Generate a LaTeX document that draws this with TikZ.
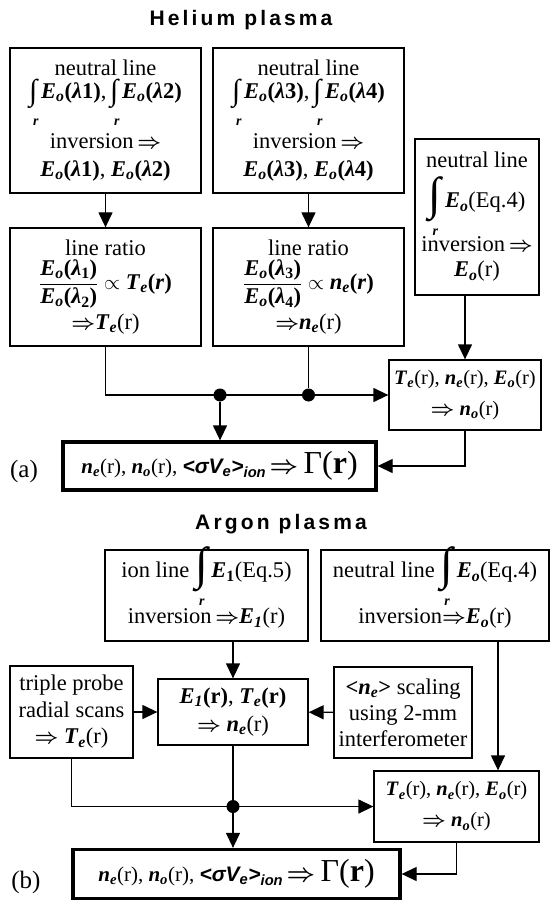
\documentclass[tikz,border=0pt]{standalone}
\usepackage{amsmath}
\usepackage{fontspec}
\setmainfont{Liberation Serif}
\newfontfamily\titlefont[LetterSpace=15]{Liberation Sans}
\newfontfamily\sansbi{Liberation Sans}
\usetikzlibrary{arrows.meta}
\newcommand{\bE}{\textbf{\textit{E}}}
\newcommand{\bT}{\textbf{\textit{T}}}
\newcommand{\bn}{\textbf{\textit{n}}}
\newcommand{\sbi}[1]{\textsubscript{\textbf{\textit{#1}}}}
% integral: #1 glyph size, #2 raise of glyph, #3 raise of r
\newcommand{\intg}[3]{\smash{\rlap{\hspace{4pt}\raisebox{#3}{\fontsize{14}{14}\selectfont\bfseries\itshape r}}\raisebox{#2}{\fontsize{#1}{#1}\selectfont\bfseries ∫}}\,}
\newcommand{\intr}{\intg{30}{-2pt}{-27pt}}
\newcommand{\intR}{\intg{46}{-2pt}{-28pt}}
\newcommand{\RA}{$\boldsymbol{\Rightarrow}$}
\newcommand{\flux}{\bn\sbi{e}(r), \bn\sbi{o}(r), {\sansbi\bfseries\itshape <σV\textsubscript{e}>\textsubscript{ion}}\,{\fontsize{32}{32}\selectfont$\boldsymbol{\Rightarrow}$\,Γ(\textbf{r})}}
\begin{document}
\begin{tikzpicture}[x=1pt,y=-1pt,
  box/.style={draw, line width=1.3pt, inner sep=0pt, align=center, font=\fontsize{22.5}{22}\selectfont},
  finalbox/.style={draw, line width=3.3pt, inner sep=0pt, align=center, font=\fontsize{21}{24}\selectfont},
  arr/.style={-{Triangle[length=15pt,width=14pt]}, line width=1.3pt},
  conn/.style={line width=1.3pt},
  dot/.style={circle, fill, inner sep=0pt, minimum size=13pt},
  ttl/.style={font=\titlefont\bfseries\fontsize{21}{24}\selectfont},
  lbl/.style={font=\fontsize{25}{28}\selectfont}]
\useasboundingbox (0,0) rectangle (551,901);
% ---------- Helium ----------
\node[ttl] (t1) at (241,20) {Helium plasma};
\node[box, minimum width=191pt, minimum height=145pt] (A1) at (105.5,120.5)
 {neutral line\\[1pt]
  \intr\bE\sbi{o}\textbf{(\textit{λ}1)},\,\intr\bE\sbi{o}\textbf{(\textit{λ}2)}\\[28pt]
  inversion\,\RA\\[6pt]
  \bE\sbi{o}\textbf{(\textit{λ}1)}, \bE\sbi{o}\textbf{(\textit{λ}2)}};
\node[box, minimum width=191pt, minimum height=145pt] (A2) at (308.5,120.5)
 {neutral line\\[1pt]
  \intr\bE\sbi{o}\textbf{(\textit{λ}3)},\,\intr\bE\sbi{o}\textbf{(\textit{λ}4)}\\[28pt]
  inversion\,\RA\\[6pt]
  \bE\sbi{o}\textbf{(\textit{λ}3)}, \bE\sbi{o}\textbf{(\textit{λ}4)}};
\node[box, minimum width=124pt, minimum height=156pt] (A3) at (477,217)
 {neutral line\\[18pt]
  \intR\bE\sbi{o}(Eq.4)\\[22pt]
  inversion\,\RA\\[3pt]
  \bE\sbi{o}(r)};
\node[box, minimum width=191pt, minimum height=118pt, font=\fontsize{22.5}{26}\selectfont] (B1) at (105.5,287)
 {line ratio\\[3pt]
  $\displaystyle\frac{\hbox{\bE\sbi{o}\textbf{(\textit{λ}\textsubscript{1})}}}{\hbox{\bE\sbi{o}\textbf{(\textit{λ}\textsubscript{2})}}}\propto$ \bT\sbi{e}\textbf{(\textit{r})}\\[4pt]
  \RA\bT\sbi{e}(r)};
\node[box, minimum width=191pt, minimum height=118pt, font=\fontsize{22.5}{26}\selectfont] (B2) at (308.5,287)
 {line ratio\\[3pt]
  $\displaystyle\frac{\hbox{\bE\sbi{o}\textbf{(\textit{λ}\textsubscript{3})}}}{\hbox{\bE\sbi{o}\textbf{(\textit{λ}\textsubscript{4})}}}\propto$ \bn\sbi{e}\textbf{(\textit{r})}\\[4pt]
  \RA\bn\sbi{e}(r)};
\node[box, minimum width=152pt, minimum height=70pt, font=\fontsize{20.5}{31}\selectfont] (C) at (465,395)
 {\bT\sbi{e}(r), \bn\sbi{e}(r), \bE\sbi{o}(r)\\
  \RA\ \bn\sbi{o}(r)};
\node[finalbox, minimum width=313pt, minimum height=48pt] (G1) at (219.5,466) {\flux};
\node[lbl] (la) at (24,471) {(a)};
\node[dot] (d1) at (220,395) {};
\node[dot] (d2) at (B2.south |- d1) {};
\draw[arr] (A1) -- (B1);
\draw[arr] (A2) -- (B2);
\draw[arr] (A3.south -| C.north) -- (C.north);
\draw[arr] (B1.south) |- (C.west);
\draw[conn] (B2.south) -- (d2);
\draw[arr] (d1) -- (d1 |- G1.north);
\draw[arr] (C.south) |- (G1.east);
% ---------- Argon ----------
\node[ttl] (t2) at (281,524) {Argon plasma};
\node[box, minimum width=203pt, minimum height=91pt] (D1) at (206.5,595.5)
 {ion line \intR\bE\textsubscript{\textbf{1}}(Eq.5)\\[24pt]
  inversion\,\RA\bE\sbi{1}(r)};
\node[box, minimum width=228pt, minimum height=91pt] (D2) at (435,595.5)
 {neutral line \intR\bE\sbi{o}(Eq.4)\\[24pt]
  inversion\RA\bE\sbi{o}(r)};
\node[box, minimum width=150pt, minimum height=66pt, font=\fontsize{22.5}{28}\selectfont] (E) at (233,712)
 {\bE\sbi{1}\textbf{(r)}, \bT\sbi{e}\textbf{(r)}\\
  \RA\ \bn\sbi{e}(r)};
\node[box, minimum width=123pt, minimum height=92pt, font=\fontsize{22.5}{26.5}\selectfont] (F) at (71.5,712)
 {triple probe\\radial scans\\\RA\ \bT\sbi{e}(r)};
\node[box, minimum width=138pt, minimum height=91pt, font=\fontsize{22.5}{26}\selectfont] (G) at (403,712.5)
 {\textbf{<}\bn\sbi{e}\textbf{>} scaling\\using 2-mm\\interferometer};
\node[box, minimum width=165pt, minimum height=71pt, font=\fontsize{20.5}{31}\selectfont] (H) at (456.5,806.5)
 {\bT\sbi{e}(r), \bn\sbi{e}(r), \bE\sbi{o}(r)\\
  \RA\ \bn\sbi{o}(r)};
\node[finalbox, minimum width=327pt, minimum height=49pt] (G2) at (236.5,874) {\flux};
\node[lbl] (lb) at (26,882) {(b)};
\coordinate (xd2) at (498,0);
\node[dot] (d3) at (E.south |- H.west) {};
\draw[arr] (E.north |- D1.south) -- (E.north);
\draw[arr] (F) -- (E);
\draw[arr] (G) -- (E);
\draw[arr] (D2.south -| xd2) -- (H.north -| xd2);
\draw[arr] (F.south) |- (H.west);
\draw[conn] (E.south) -- (d3);
\draw[arr] (d3) -- (d3 |- G2.north);
\draw[arr] (H.south) |- (G2.east);
\end{tikzpicture}
\end{document}
